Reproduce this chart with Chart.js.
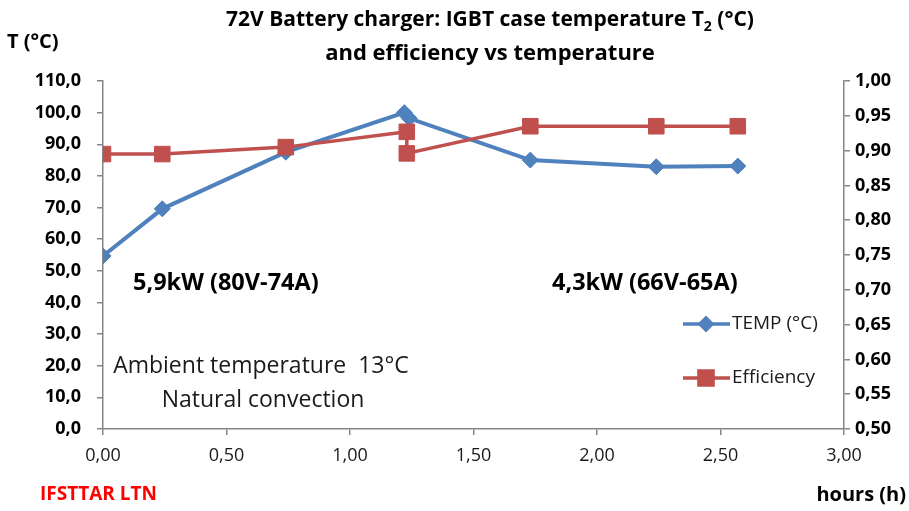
<!DOCTYPE html>
<html>
<head>
<meta charset="utf-8">
<script src="https://cdn.jsdelivr.net/npm/chart.js@4.4.1/dist/chart.umd.min.js"></script>
<style>
  html, body { margin: 0; padding: 0; background: #ffffff; }
  #wrap { position: relative; width: 909px; height: 511px; }
</style>
</head>
<body>
<div id="wrap"><canvas id="c" width="909" height="511"></canvas></div>
<script>
// Charging time (h) and IGBT case temperature (°C)
const tempHours = [0.00, 0.24, 0.74, 1.22, 1.24, 1.73, 2.24, 2.57];
const tempValues = [54.7, 69.6, 87.5, 100.0, 98.2, 85.0, 82.9, 83.1];

// Charging time (h) and charger efficiency
const effHours = [0.00, 0.24, 0.74, 1.23, 1.23, 1.73, 2.24, 2.57];
const effValues = [0.895, 0.895, 0.905, 0.927, 0.896, 0.935, 0.935, 0.935];

// Axis ranges and tick steps
const xRange = [0, 3];
const xStep = 0.5;
const tempRange = [0, 110];
const tempStep = 10;
const effRange = [0.5, 1.0];
const effStep = 0.05;

const BLUE = '#4F81BD';
const RED = '#C0504D';
const AXIS = '#868686';
const FONT = '"Open Sans", Lato, sans-serif';

const toPoints = (xs, ys) => xs.map((x, i) => ({ x: x, y: ys[i] }));
const comma = (v, d) => Number(v).toFixed(d).replace('.', ',');

// Annotations, axis captions, title and legend drawn on top of the chart
const textPlugin = {
  id: 'textLayer',
  afterDraw(chart) {
    const ctx = chart.ctx;
    ctx.save();
    ctx.textBaseline = 'middle';

    // Title, line 1 with subscript
    const big = 'bold 21px ' + FONT;
    const sub = 'bold 14px ' + FONT;
    const p1 = '72V Battery charger: IGBT case temperature T';
    const p2 = '2';
    const p3 = ' (°C)';
    ctx.font = big; const w1 = ctx.measureText(p1).width; const w3 = ctx.measureText(p3).width;
    ctx.font = sub; const w2 = ctx.measureText(p2).width;
    let x = 490 - (w1 + w2 + w3) / 2;
    ctx.fillStyle = '#000';
    ctx.textAlign = 'left';
    ctx.font = big; ctx.fillText(p1, x, 20); x += w1;
    ctx.font = sub; ctx.fillText(p2, x, 27); x += w2;
    ctx.font = big; ctx.fillText(p3, x, 20);
    ctx.textAlign = 'center';
    ctx.font = 'bold 22px ' + FONT;
    ctx.fillText('and efficiency vs temperature', 490, 54);

    // Left axis caption
    ctx.textAlign = 'left';
    ctx.font = 'bold 20px ' + FONT;
    ctx.fillText('T (°C)', 7, 42);

    // Operating points
    ctx.font = 'bold 23.5px ' + FONT;
    ctx.fillText('5,9kW (80V-74A)', 133, 283);
    ctx.fillText('4,3kW (66V-65A)', 552, 283);

    // Test conditions
    ctx.font = '23px ' + FONT;
    ctx.textAlign = 'center';
    ctx.fillStyle = '#1a1a1a';
    ctx.fillText('Ambient temperature  13°C', 261, 366);
    ctx.fillText('Natural convection', 263, 400);

    // Footer
    ctx.textAlign = 'left';
    ctx.font = 'bold 19px ' + FONT;
    ctx.fillStyle = '#FF0000';
    ctx.fillText('IFSTTAR LTN', 40, 495);
    ctx.fillStyle = '#000';
    ctx.textAlign = 'right';
    ctx.font = 'bold 20px ' + FONT;
    ctx.fillText('hours (h)', 906, 495);

    // Legend
    const items = [
      { label: 'TEMP (°C)', color: BLUE, style: 'rectRot', r: 6, y: 324 },
      { label: 'Efficiency', color: RED, style: 'rect', r: 10, y: 378 }
    ];
    items.forEach(it => {
      ctx.strokeStyle = it.color;
      ctx.lineWidth = 3.5;
      ctx.beginPath();
      ctx.moveTo(683, it.y); ctx.lineTo(730, it.y);
      ctx.stroke();
      ctx.fillStyle = it.color;
      Chart.helpers.drawPoint(ctx, { pointStyle: it.style, radius: it.r, borderWidth: 1 }, 706, it.y);
      ctx.fill();
      ctx.fillStyle = '#1a1a1a';
      ctx.textAlign = 'left';
      ctx.font = '19px ' + FONT;
      ctx.fillText(it.label, 732, it.y);
    });
    ctx.restore();
  }
};

new Chart(document.getElementById('c'), {
  type: 'line',
  data: {
    datasets: [
      {
        label: 'TEMP (°C)',
        data: toPoints(tempHours, tempValues),
        yAxisID: 'yT',
        borderColor: BLUE,
        backgroundColor: BLUE,
        borderWidth: 4,
        pointStyle: 'rectRot',
        pointRadius: 8,
        pointBorderWidth: 1,
        pointBackgroundColor: BLUE,
        pointBorderColor: BLUE,
        tension: 0,
        order: 2
      },
      {
        label: 'Efficiency',
        data: toPoints(effHours, effValues),
        yAxisID: 'yE',
        borderColor: RED,
        backgroundColor: RED,
        borderWidth: 3.5,
        pointStyle: 'rect',
        pointRadius: 11,
        pointBorderWidth: 1,
        pointBackgroundColor: RED,
        pointBorderColor: RED,
        tension: 0,
        order: 1
      }
    ]
  },
  options: {
    responsive: false,
    animation: false,
    events: [],
    layout: { padding: { top: 81, left: 0, right: 0, bottom: 0 } },
    plugins: {
      legend: { display: false },
      title: { display: false },
      tooltip: { enabled: false }
    },
    scales: {
      x: {
        type: 'linear',
        min: xRange[0], max: xRange[1],
        afterFit(s) { s.height = 82; },
        border: { display: true, color: AXIS, width: 1.5 },
        grid: { drawOnChartArea: false, drawTicks: true, tickLength: 6, color: AXIS, lineWidth: 1.5 },
        ticks: {
          stepSize: xStep, padding: 10,
          color: '#1a1a1a',
          font: { family: FONT, size: 18 },
          callback: v => comma(v, 2)
        }
      },
      yT: {
        type: 'linear', position: 'left',
        min: tempRange[0], max: tempRange[1],
        afterFit(s) { s.width = 103; },
        border: { display: true, color: AXIS, width: 1.5 },
        grid: { drawOnChartArea: false, drawTicks: true, tickLength: 6, color: AXIS, lineWidth: 1.5 },
        ticks: {
          stepSize: tempStep, padding: 16,
          color: '#000',
          font: { family: FONT, size: 18, weight: 'bold' },
          callback: v => comma(v, 1)
        }
      },
      yE: {
        type: 'linear', position: 'right',
        min: effRange[0], max: effRange[1],
        afterFit(s) { s.width = 65; },
        border: { display: true, color: AXIS, width: 1.5 },
        grid: { drawOnChartArea: false, drawTicks: true, tickLength: 6, color: AXIS, lineWidth: 1.5 },
        ticks: {
          stepSize: effStep, padding: 5,
          color: '#000',
          font: { family: FONT, size: 18, weight: 'bold' },
          callback: v => comma(v, 2)
        }
      }
    }
  },
  plugins: [textPlugin]
});
</script>
</body>
</html>
